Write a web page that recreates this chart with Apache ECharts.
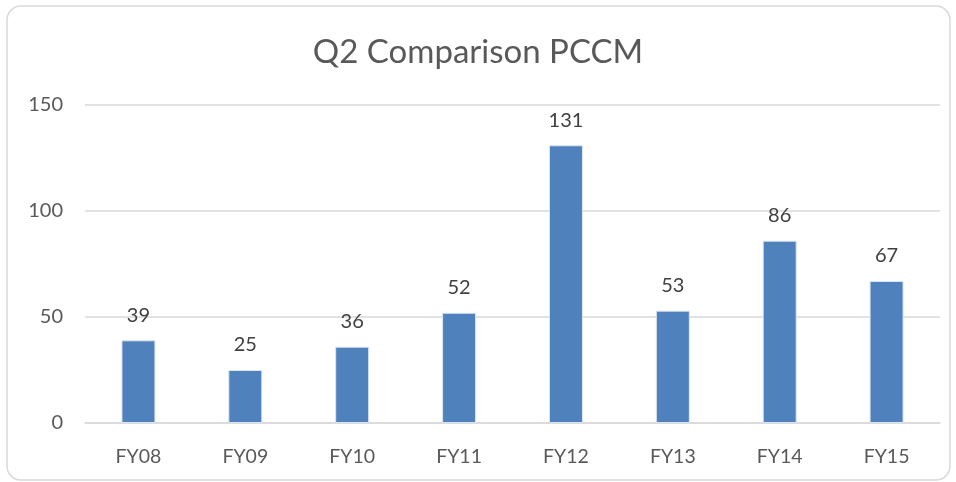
<!DOCTYPE html>
<html>
<head>
<meta charset="utf-8">
<script src="https://cdn.jsdelivr.net/npm/echarts@6/dist/echarts.min.js"></script>
<style>
  html, body { margin: 0; padding: 0; background: #fff; }
  #chart { width: 956px; height: 482px; }
</style>
</head>
<body>
<div id="chart"></div>
<script>
// fiscal years and Q2 counts
const categories = ['FY08', 'FY09', 'FY10', 'FY11', 'FY12', 'FY13', 'FY14', 'FY15'];
const values = [39, 25, 36, 52, 131, 53, 86, 67];

const chart = echarts.init(document.getElementById('chart'));
const font = 'Lato, "Open Sans", sans-serif';

const option = {
    backgroundColor: '#fff',
    animation: false,
    title: {
        text: 'Q2 Comparison PCCM',
        left: 'center',
        top: 31,
        textStyle: { fontFamily: font, fontSize: 33, fontWeight: 'normal', color: '#595959' }
    },
    graphic: [{
        type: 'rect',
        shape: { x: 7, y: 6, width: 943, height: 474, r: 14 },
        style: { fill: 'none', stroke: '#d9d9d9', lineWidth: 1.5 },
        silent: true
    }],
    grid: { left: 85, right: 16, top: 105, bottom: 59 },
    xAxis: {
        type: 'category',
        data: categories,
        axisLine: { lineStyle: { color: '#d9d9d9', width: 1.5 } },
        axisTick: { show: false },
        axisLabel: { fontFamily: font, fontSize: 19.5, color: '#595959', margin: 24 }
    },
    yAxis: {
        type: 'value',
        min: 0,
        max: 150,
        interval: 50,
        axisLine: { show: false },
        axisTick: { show: false },
        splitLine: { lineStyle: { color: '#d9d9d9', width: 1.5 } },
        axisLabel: { fontFamily: font, fontSize: 20, color: '#595959', margin: 22 }
    },
    series: [{
        type: 'bar',
        data: values,
        barWidth: 34,
        itemStyle: { color: '#4f81bd', borderColor: '#dce6f2', borderWidth: 1 },
        label: {
            show: true,
            position: 'top',
            distance: 15,
            fontFamily: font,
            fontSize: 20,
            color: '#404040'
        }
    }]
};

chart.setOption(option);
</script>
</body>
</html>
